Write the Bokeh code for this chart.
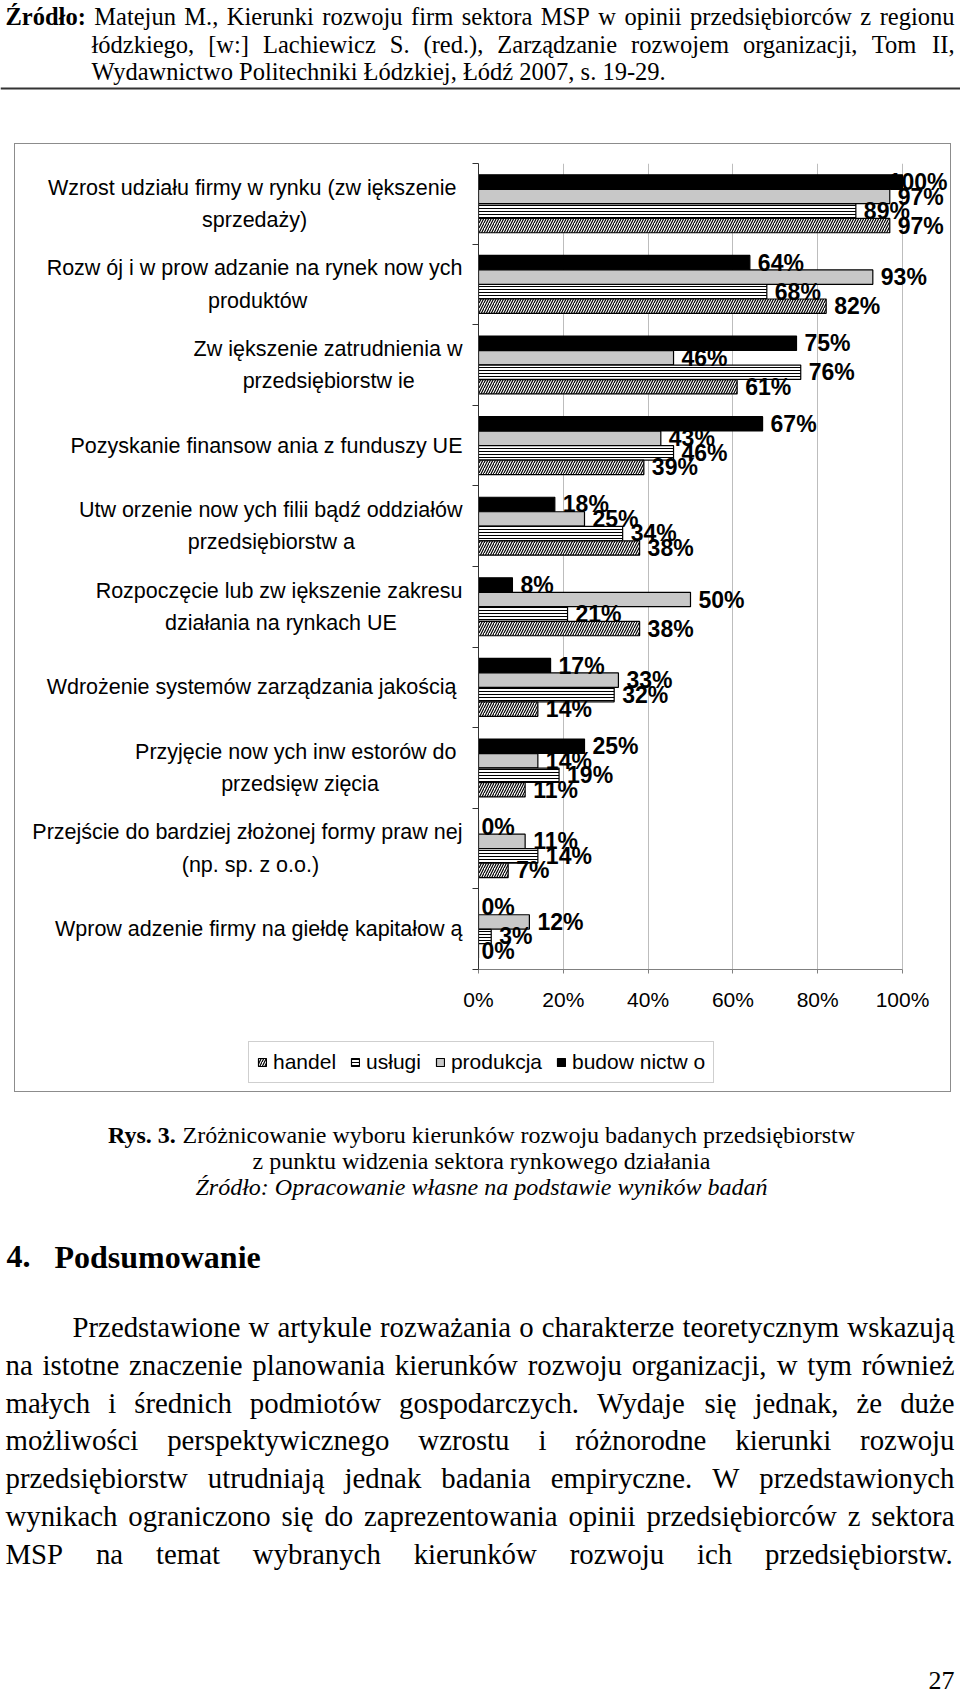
from bokeh.plotting import figure
from bokeh.models import (Range1d, FixedTicker, ColumnDataSource, LabelSet,
                          Legend, LegendItem, Plot, Spacer)
from bokeh.layouts import column, row
from bokeh.core.properties import value
from bokeh.embed import file_html
from bokeh.resources import INLINE

# ---------------- chart data ----------------
categories = [
    "Wzrost udziału firmy w  rynku (zw iększenie\nsprzedaży)",
    "Rozw ój i w prow adzanie na rynek now ych\nproduktów",
    "Zw iększenie zatrudnienia w\nprzedsiębiorstw ie",
    "Pozyskanie finansow ania z funduszy UE",
    "Utw orzenie now ych filii bądź oddziałów\nprzedsiębiorstw a",
    "Rozpoczęcie lub zw iększenie zakresu\ndziałania na rynkach UE",
    "Wdrożenie systemów  zarządzania jakością",
    "Przyjęcie now ych inw estorów  do\nprzedsięw zięcia",
    "Przejście do bardziej złożonej formy praw nej\n(np. sp. z o.o.)",
    "Wprow adzenie firmy na giełdę kapitałow ą",
]
budownictwo = [100, 64, 75, 67, 18, 8, 17, 25, 0, 0]
produkcja = [97, 93, 46, 43, 25, 50, 33, 14, 11, 12]
uslugi = [89, 68, 76, 46, 34, 21, 32, 19, 14, 3]
handel = [97, 82, 61, 39, 38, 38, 14, 11, 7, 0]
series_labels = {"budownictwo": "budow nictw o", "produkcja": "produkcja",
                 "uslugi": "usługi", "handel": "handel"}
legend_order = ["handel", "uslugi", "produkcja", "budownictwo"]
x_ticks = [0, 20, 40, 60, 80, 100]
x_tick_labels = ["0%", "20%", "40%", "60%", "80%", "100%"]

# ---------------- page text ----------------
source_bold = "Źródło:"
source_lines = [
    "Matejun M., Kierunki rozwoju firm sektora MSP w opinii przedsiębiorców z regionu",
    "łódzkiego, [w:] Lachiewicz S. (red.), Zarządzanie rozwojem organizacji, Tom II,",
    "Wydawnictwo Politechniki Łódzkiej, Łódź 2007, s. 19-29.",
]
caption_bold = "Rys. 3."
caption_lines = [
    "Zróżnicowanie wyboru kierunków rozwoju badanych przedsiębiorstw",
    "z punktu widzenia sektora rynkowego działania",
]
caption_source = "Źródło: Opracowanie własne na podstawie wyników badań"
heading_num = "4."
heading_text = "Podsumowanie"
body_lines = [
    "Przedstawione w artykule rozważania o charakterze teoretycznym wskazują",
    "na istotne znaczenie planowania kierunków rozwoju organizacji, w tym również",
    "małych i średnich podmiotów gospodarczych. Wydaje się jednak, że duże",
    "możliwości perspektywicznego wzrostu i różnorodne kierunki rozwoju",
    "przedsiębiorstw utrudniają jednak badania empiryczne. W przedstawionych",
    "wynikach ograniczono się do zaprezentowania opinii przedsiębiorców z sektora",
    "MSP na temat wybranych kierunków rozwoju ich przedsiębiorstw.",
]
page_number = "27"

# ---------------- layout constants (page pixels) ----------------
PAGE_L, PAGE_R = 0, 960
W = PAGE_R - PAGE_L
HEAD_TOP = 0
BOX_L, BOX_R, BOX_T, BOX_B = 14, 951, 143, 1092     # bordered chart box
LEG_T = 1025                                          # legend strip top
PAGE_BOT = 1695
PLOT_L, PLOT_R, PLOT_T, PLOT_B = 478, 902, 163, 969  # plot area (0%..100%)
FRAME_R = 949
TEXT_L, TEXT_R = 5, 954
HEAD_INDENT = 91
BOX_COLOR = "#8c8c8c"

SERIF = "Liberation Serif"
SANS = "Liberation Sans"
FA = {"frame_align": False} if "frame_align" in Plot.properties() else {}


def _tbl(spec):
    d = {}
    for chars, w in spec:
        for c in chars:
            d[c] = w
    return d


TIMES_R = _tbl([(" ,.", 250), (":;ijltł/", 278), ("()[]-frI", 333), ("sśJ", 389),
                ("aceząćęźż?", 444), ("bdghknopquvxyńó0123456789", 500),
                ("FPSŚ", 556), ("ELTZŁŹŻ", 611), ("BCR", 667),
                ("wADGHKNOQUVXY", 722), ("m", 778), ("%", 833), ("M", 889), ("W", 944)])
TIMES_B = _tbl([(" ,.", 250), ("ilł", 278), (":;()[]-ftj", 333), ("sśI", 389),
                ("cezćęźżr", 444), ("agovxyóąJ0123456789", 500), ("bdhknpquńS", 556),
                ("FP", 611), ("BELTZŹŻŁ", 667), ("wACDNRUVXY", 722), ("GHKOQ", 778),
                ("m", 833), ("M", 944), ("W%", 1000)])
ARIAL = _tbl([("ijlł", 222), (" ,.:;ftI!/", 278), ("()[]-r", 333),
              ("cćkszśźżvxyJ", 500), ("abdeghnopquąęńóL0123456789", 556),
              ("FTZŹŻ", 611), ("ABEKPSVXYŚ", 667), ("wCDHNRU", 722), ("GOQ", 778),
              ("mM", 833), ("%", 889), ("W", 944)])
ARIAL_B = _tbl([("0123456789", 556), ("%", 889)])


def measure(s, table, size):
    return sum(table.get(c, 500) for c in s) * size / 1000.0


def justify(words, tables, x0, x1, size, full=True):
    ws = [measure(w, t, size) for w, t in zip(words, tables)]
    space = 250 * size / 1000.0
    gap = space
    if full and len(words) > 1:
        gap = (x1 - x0 - sum(ws)) / (len(words) - 1)
        if gap < space * 0.5:
            gap = space
    xs, x = [], x0
    for w in ws:
        xs.append(x)
        x += w + gap
    return xs


def text_figure(left, right, top, bottom, fill="white"):
    p = figure(width=right - left, height=bottom - top,
               x_range=Range1d(left, right), y_range=Range1d(bottom, top),
               x_axis_type=None, y_axis_type=None,
               toolbar_location=None, output_backend="svg",
               min_border=0, min_border_left=0, min_border_right=0,
               min_border_top=0, min_border_bottom=0, outline_line_color=None,
               background_fill_color=fill, border_fill_color=fill, **FA)
    return p


def draw_items(p, items):
    groups = {}
    for (x, y, t, font, size, style, align) in items:
        g = groups.setdefault((font, size, style, align), {"x": [], "y": [], "t": []})
        g["x"].append(x)
        g["y"].append(y)
        g["t"].append(t)
    for (font, size, style, align), g in groups.items():
        p.text(x=g["x"], y=g["y"], text=g["t"], text_font=value(font),
               text_font_size=f"{size}px", text_font_style=style,
               text_align=align, text_baseline="middle", text_color="black")


# ---------------- header ----------------
header = text_figure(PAGE_L, PAGE_R, HEAD_TOP, BOX_T)
HS = 24.5
head_y = [16, 44, 71]
items = []
w1 = [source_bold] + source_lines[0].split()
t1 = [TIMES_B] + [TIMES_R] * (len(w1) - 1)
xs = justify(w1, t1, TEXT_L, TEXT_R, HS)
for i, (w, x) in enumerate(zip(w1, xs)):
    items.append((x, head_y[0], w, SERIF, HS, "bold" if i == 0 else "normal", "left"))
w2 = source_lines[1].split()
xs = justify(w2, [TIMES_R] * len(w2), HEAD_INDENT, TEXT_R, HS)
for w, x in zip(w2, xs):
    items.append((x, head_y[1], w, SERIF, HS, "normal", "left"))
items.append((HEAD_INDENT, head_y[2], source_lines[2], SERIF, HS, "normal", "left"))
draw_items(header, items)
header.segment(x0=[PAGE_L], y0=[88], x1=[PAGE_R], y1=[88], line_width=2, line_color="#333333")

# ---------------- chart ----------------
n = len(categories)
px_per_unit = (PLOT_R - PLOT_L) / 100.0
x_end = (FRAME_R - PLOT_L) / px_per_unit
chart = figure(width=BOX_R - BOX_L, height=LEG_T - BOX_T,
               x_range=Range1d(0, x_end), y_range=Range1d(0, n),
               toolbar_location=None, output_backend="svg",
               min_border_left=PLOT_L - BOX_L, min_border_right=BOX_R - FRAME_R,
               min_border_top=PLOT_T - BOX_T, min_border_bottom=LEG_T - PLOT_B,
               outline_line_color=None, background_fill_color=None,
               border_fill_color=None, **FA)
# chart box border: top, left and right edges (canvas is transparent)
chart.styles = {"box-shadow": f"inset 1px 0 0 0 {BOX_COLOR}, inset -1px 0 0 0 {BOX_COLOR}, "
                              f"inset 0 1px 0 0 {BOX_COLOR}"}

SERIES_VALUES = {"budownictwo": budownictwo, "produkcja": produkcja,
                 "uslugi": uslugi, "handel": handel}
OFFSETS = {"budownictwo": 0.27, "produkcja": 0.09, "uslugi": -0.09, "handel": -0.27}
STYLE = {
    "budownictwo": dict(fill_color="black"),
    "produkcja": dict(fill_color="#c8c8c8"),
    "uslugi": dict(fill_color="white", hatch_pattern="horizontal_line", hatch_scale=3,
                   hatch_weight=1, hatch_color="black"),
    "handel": dict(fill_color="white", hatch_pattern="right_diagonal_line", hatch_scale=5,
                   hatch_weight=1.2, hatch_color="black"),
}
BAR_H = 0.178
LAB_SIZE = 23

sources = {}
lab = {"x": [], "y": [], "t": [], "dx": []}
zero = {"x": [], "y": [], "t": []}
for key in ["budownictwo", "produkcja", "uslugi", "handel"]:
    vals = SERIES_VALUES[key]
    ys = [n - i - 0.5 + OFFSETS[key] for i in range(n)]
    sources[key] = ColumnDataSource(dict(y=ys, right=vals))
    chart.hbar(y="y", left=0, right="right", height=BAR_H, source=sources[key],
               line_color="black", line_width=1.2, **STYLE[key])
    for v, y in zip(vals, ys):
        t = f"{v}%"
        if v == 0:
            zero["x"].append(v); zero["y"].append(y); zero["t"].append(t)
        else:
            # keep the label inside the chart area (as the original does for 100%)
            w = measure(t, ARIAL_B, LAB_SIZE)
            end_px = PLOT_L + v * px_per_unit
            dx = min(8.0, (FRAME_R - 2) - w - end_px)
            lab["x"].append(v); lab["y"].append(y); lab["t"].append(t); lab["dx"].append(dx)

common = dict(text_font=value(SANS), text_font_size=f"{LAB_SIZE}px", text_font_style="bold",
              text_baseline="middle", text_color="black", text_align="left")
chart.add_layout(LabelSet(x="x", y="y", text="t", x_offset="dx",
                          source=ColumnDataSource(lab), **common))
chart.add_layout(LabelSet(x="x", y="y", text="t", x_offset=3,
                          source=ColumnDataSource(zero), **common))

# x axis
chart.xaxis.ticker = FixedTicker(ticks=x_ticks)
chart.xaxis.bounds = (0, 100)
chart.xaxis.major_label_overrides = {t: l for t, l in zip(x_ticks, x_tick_labels)}
chart.xaxis.major_label_text_font = SANS
chart.xaxis.major_label_text_font_size = "21px"
chart.xaxis.major_label_text_color = "black"
chart.xaxis.major_label_standoff = 14
chart.xaxis.major_tick_out = 4
chart.xaxis.major_tick_in = 0
chart.xaxis.minor_tick_line_color = None
chart.xaxis.axis_line_color = "#808080"
chart.xaxis.major_tick_line_color = "#808080"
chart.xgrid.ticker = FixedTicker(ticks=x_ticks)
chart.xgrid.grid_line_color = "#bdbdbd"
chart.ygrid.grid_line_color = None

# y axis: category names at centres, tick marks at category boundaries
CAT_SIZE = 21.5
centers = [n - i - 0.5 for i in range(n)]
nbsp_w = measure(" ", ARIAL, CAT_SIZE)
overrides = {}
for i, cat in enumerate(categories):
    lines = cat.split("\n")
    ws = [measure(l, ARIAL, CAT_SIZE) for l in lines]
    mw = max(ws)
    padded = [l + "\u00a0" * int(round((mw - w) / 2 / nbsp_w)) for l, w in zip(lines, ws)]
    overrides[centers[i]] = "\n".join(padded)
chart.yaxis.ticker = FixedTicker(ticks=centers, minor_ticks=list(range(n + 1)))
chart.yaxis.major_label_overrides = overrides
chart.yaxis.major_label_text_font = SANS
chart.yaxis.major_label_text_font_size = f"{CAT_SIZE}px"
chart.yaxis.major_label_text_color = "black"
chart.yaxis.major_label_text_line_height = 29 / CAT_SIZE
chart.yaxis.major_label_standoff = 10
chart.yaxis.major_tick_out = 0
chart.yaxis.major_tick_in = 0
chart.yaxis.major_tick_line_color = None
chart.yaxis.minor_tick_out = 6
chart.yaxis.minor_tick_in = 0
chart.yaxis.minor_tick_line_color = "#333333"
chart.yaxis.axis_line_color = "#333333"

# ---------------- legend strip (shares the chart's data sources) ----------------
# The strip's own ranges lie far from the data, so its bars fall outside it and
# only the legend swatches (same styles as the chart bars) are visible.
LEG_H = BOX_B - LEG_T
leg_fig = figure(width=BOX_R - BOX_L, height=LEG_H,
                 x_range=Range1d(5000, 6000), y_range=Range1d(5000, 6000),
                 x_axis_type=None, y_axis_type=None, toolbar_location=None,
                 output_backend="svg", min_border=0, min_border_left=0,
                 min_border_right=0, min_border_top=0, min_border_bottom=0,
                 outline_line_color=None, background_fill_color=None,
                 border_fill_color=None, **FA)
leg_fig.styles = {"box-shadow": f"inset 1px 0 0 0 {BOX_COLOR}, inset -1px 0 0 0 {BOX_COLOR}, "
                                f"inset 0 -1px 0 0 {BOX_COLOR}"}
leg_renderers = {}
for key in legend_order:
    leg_renderers[key] = leg_fig.hbar(y="y", left=0, right="right", height=BAR_H,
                                      source=sources[key], line_color="black",
                                      line_width=1.2, **STYLE[key])
LEG_L, LEG_BOT = 248, 1083
legend = Legend(items=[LegendItem(label=series_labels[k], renderers=[leg_renderers[k]])
                       for k in legend_order],
                orientation="horizontal", location=(LEG_L - BOX_L, BOX_B - LEG_BOT),
                glyph_width=10, glyph_height=10, label_standoff=6, spacing=14,
                padding=8, margin=0, label_text_font=SANS, label_text_font_size="21px",
                label_text_color="black", border_line_color="#a0a0a0",
                border_line_width=1, background_fill_color="white",
                background_fill_alpha=1)
leg_fig.add_layout(legend)

chart_box = column(chart, leg_fig)
chart_row = row(Spacer(width=BOX_L - PAGE_L, height=BOX_B - BOX_T), chart_box)

# ---------------- bottom text ----------------
bottom = text_figure(PAGE_L, PAGE_R, BOX_B, PAGE_BOT)
items = []
CS = 24.0
CENTER = 481
wb = measure(caption_bold + " ", TIMES_B, CS)
wr = measure(caption_lines[0], TIMES_R, CS)
x0 = CENTER - (wb + wr) / 2
items.append((x0, 1134, caption_bold, SERIF, CS, "bold", "left"))
items.append((x0 + wb, 1134, caption_lines[0], SERIF, CS, "normal", "left"))
items.append((CENTER, 1160, caption_lines[1], SERIF, CS, "normal", "center"))
items.append((CENTER, 1186, caption_source, SERIF, CS, "italic", "center"))
items.append((6, 1256, heading_num, SERIF, 32, "bold", "left"))
items.append((54, 1256, heading_text, SERIF, 32, "bold", "left"))
BS = 28.8
BODY_Y0, BODY_DY = 1326.5, 37.8
for k, line in enumerate(body_lines):
    words = line.split()
    x_start = 72 if k == 0 else TEXT_L
    xs = justify(words, [TIMES_R] * len(words), x_start, TEXT_R, BS)
    for w, x in zip(words, xs):
        items.append((x, BODY_Y0 + k * BODY_DY, w, SERIF, BS, "normal", "left"))
items.append((954, 1680, page_number, SERIF, 26, "normal", "right"))
draw_items(bottom, items)

layout = column(header, chart_row, bottom)
open("out.html", "w").write(file_html(layout, INLINE))
